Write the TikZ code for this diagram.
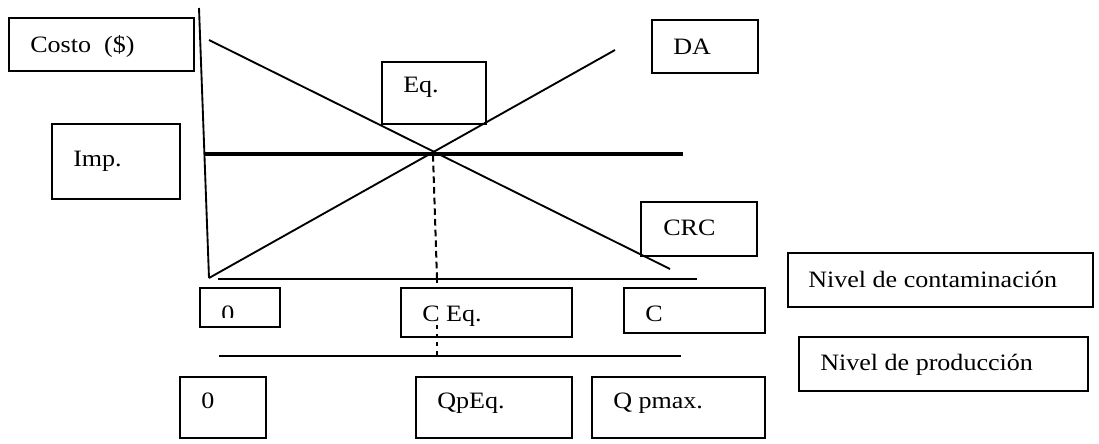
\documentclass[tikz,border=0pt]{standalone}
\usepackage{fontspec}
\setmainfont[FakeStretch=1.11]{Liberation Serif}
\newcommand\lblfont{\fontsize{17.6}{21}\selectfont}
\newcommand\mkbox[5]{\node[box, anchor=north west, minimum width={(#4-#2)*0.75pt}, minimum height={(#5-#3)*0.75pt}] (#1) at (#2,#3) {};}
\begin{document}
\begin{tikzpicture}[x=0.75pt,y=-0.75pt,
  box/.style={draw, line width=1.4pt, inner sep=0pt, outer sep=0pt},
  lbl/.style={anchor=base west, inner sep=0pt, font=\lblfont},
  thinline/.style={line width=1.4pt},
  thickline/.style={line width=2.4pt},
  eqdash/.style={line width=1.5pt, dash pattern=on 5pt off 3pt},
  eqdash2/.style={line width=1.3pt, dash pattern=on 3pt off 3.5pt}]
\useasboundingbox (0,0) rectangle (1099,443);

% boxes
\mkbox{bcosto}{9}{18}{194}{71}
\mkbox{bimp}{52}{124}{180}{199}
\mkbox{beq}{382}{62}{486}{124}
\mkbox{bda}{652}{20}{758}{73}
\mkbox{bcrc}{641}{202}{757}{256}
\mkbox{bzerotop}{200}{288}{280}{327}
\mkbox{bceq}{401}{288}{572}{337}
\mkbox{bc}{624}{288}{765}{333}
\mkbox{bcont}{788}{253}{1093}{307}
\mkbox{bprod}{799}{337}{1088}{391}
\mkbox{bzero}{180}{377}{266}{438}
\mkbox{bqpeq}{416}{377}{572}{438}
\mkbox{bqpmax}{592}{377}{765}{438}

% texts
\node[lbl] (tcosto) at (30,52) {Costo\ \ (\$)};
\node[lbl] (timp) at (73,166) {Imp.};
\node[lbl] (teq) at (403,92) {Eq.};
\node[lbl] (tda) at (673,54) {DA};
\node[lbl] (tcrc) at (663,235) {CRC};
\begin{scope}
\clip (200,288) rectangle (280,317);
\node[lbl] (tzerotop) at (221,321) {0};
\end{scope}
\node[lbl] (tceq) at (422,321) {C Eq.};
\node[lbl] (tc) at (645,321) {C};
\node[lbl] (tcont) at (808,287) {Nivel de contaminación};
\node[lbl] (tprod) at (820,370) {Nivel de producción};
\node[lbl] (tzero) at (201,408) {0};
\node[lbl] (tqpeq) at (437,408) {QpEq.};
\node[lbl] (tqpmax) at (613,408) {Q pmax.};

% axes and curves
\coordinate (axtop) at (199,8);
\coordinate (axbot) at (209,278);
\coordinate (crcA) at (209,40);
\coordinate (crcB) at (670,269);
\coordinate (daB) at (615,50);
\coordinate (impA) at (205,154);
\coordinate (impB) at (683,154);
\coordinate (h1a) at (218,279);
\coordinate (h1b) at (697,279);
\coordinate (h2a) at (219,356);
\coordinate (h2b) at (681,356);
\coordinate (eqpt) at (433,155);
\coordinate (eqbase) at (437,279);
\coordinate (eqboxtop) at (437,288);
\coordinate (eqboxlow) at (437,325);
\coordinate (eqq) at (437,356);

\draw[thinline] (axtop) -- (axbot);
\draw[thinline] (crcA) -- (crcB);
\draw[thinline] (axbot) -- (daB);
\draw[thickline] (impA) -- (impB);
\draw[thinline] (h1a) -- (h1b);
\draw[thinline] (h2a) -- (h2b);
\draw[eqdash] (eqpt) -- (eqbase);
\draw[eqdash2] (eqbase) -- (eqboxtop);
\draw[eqdash2] (eqboxlow) -- (eqq);
\end{tikzpicture}
\end{document}
